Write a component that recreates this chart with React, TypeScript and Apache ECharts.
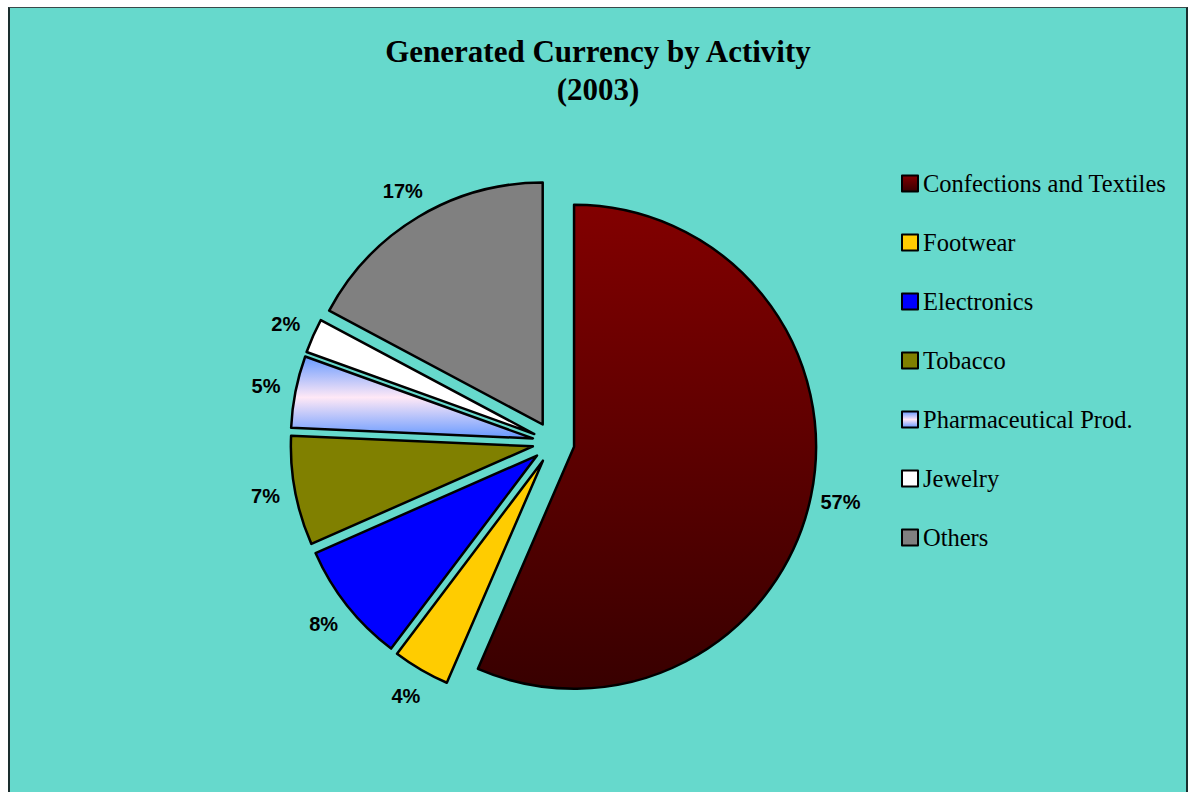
import React, { useEffect, useRef } from "react";
import * as echarts from "echarts";

const titleLines = ["Generated Currency by Activity", "(2003)"];
const categories = [
  "Confections and Textiles",
  "Footwear",
  "Electronics",
  "Tobacco",
  "Pharmaceutical Prod.",
  "Jewelry",
  "Others",
];
const shares = [56.5, 3.8, 8.1, 7.3, 4.8, 2.3, 17.2];

const sliceColors: any[] = [
  new echarts.graphic.LinearGradient(0, 0, 0, 1, [
    { offset: 0, color: "#820000" },
    { offset: 1, color: "#380000" },
  ]),
  "#FFCC00",
  "#0000FF",
  "#808000",
  new echarts.graphic.LinearGradient(0, 0, 0, 1, [
    { offset: 0, color: "#6699FF" },
    { offset: 0.5, color: "#FFE8F6" },
    { offset: 1, color: "#6699FF" },
  ]),
  "#FFFFFF",
  "#808080",
];

export default function App() {
  const ref = useRef<HTMLDivElement>(null);
  useEffect(() => {
    if (!ref.current) return;
    const chart = echarts.init(ref.current, null, { renderer: "svg" });
    const mainData = categories.map((name, i) => ({
      name,
      value: shares[i],
      selected: true,
      itemStyle: { color: sliceColors[i], borderColor: "#000", borderWidth: 2.5 },
    }));
    const labelData = categories.map((name, i) => ({ name, value: shares[i] }));
    chart.setOption({
      animation: false,
      backgroundColor: "#66D9CC",
      title: {
        text: titleLines.join("\n"),
        left: "center",
        top: 19,
        textStyle: {
          fontFamily: "'Liberation Serif', 'Times New Roman', serif",
          fontWeight: "bold",
          fontSize: 31,
          lineHeight: 38,
          color: "#000",
        },
      },
      legend: {
        orient: "vertical",
        left: 886,
        top: 158,
        itemWidth: 16,
        itemHeight: 16,
        itemGap: 34,
        icon: "rect",
        selectedMode: false,
        data: categories,
        itemStyle: { borderColor: "#000", borderWidth: 2 },
        textStyle: {
          fontFamily: "'Liberation Serif', 'Times New Roman', serif",
          fontSize: 24.5,
          lineHeight: 24,
          color: "#000",
        },
      },
      series: [
        {
          type: "pie",
          center: [543.5, 434.5],
          radius: [0, 242],
          startAngle: 90,
          clockwise: true,
          selectedMode: "multiple",
          selectedOffset: 21,
          silent: true,
          label: { show: false },
          labelLine: { show: false },
          emphasis: { disabled: true },
          select: { itemStyle: { borderColor: "#000", borderWidth: 2.5 } },
          data: mainData,
        },
        {
          type: "pie",
          center: [543.5, 434.5],
          radius: [276, 304],
          startAngle: 90,
          clockwise: true,
          silent: true,
          avoidLabelOverlap: false,
          itemStyle: { color: "rgba(0,0,0,0)", borderWidth: 0 },
          emphasis: { disabled: true },
          labelLine: { show: false },
          label: {
            show: true,
            position: "inside",
            formatter: (p: any) => Math.round(p.percent + 1e-6) + "%",
            fontFamily: "'Liberation Sans', Arial, sans-serif",
            fontWeight: "bold",
            fontSize: 20,
            color: "#000",
          },
          data: labelData,
        },
      ],
    });
    return () => chart.dispose();
  }, []);
  return (
    <div
      style={{
        position: "absolute",
        left: 8,
        top: 7,
        width: 1180,
        height: 785,
        boxSizing: "border-box",
        borderTop: "1px solid #3a4a4a",
        borderLeft: "2px solid #1a2e2e",
        borderRight: "2px solid #1a2e2e",
        background: "#66D9CC",
      }}
    >
      <div ref={ref} style={{ width: "100%", height: "100%" }} />
    </div>
  );
}
